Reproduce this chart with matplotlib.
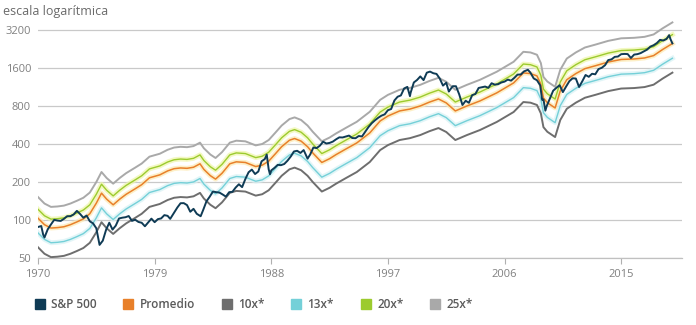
import numpy as np
import matplotlib
matplotlib.use("Agg")
import matplotlib.pyplot as plt
from matplotlib.lines import Line2D
from matplotlib.ticker import FixedLocator, FixedFormatter, NullLocator

plt.rcParams['font.family'] = ['Open Sans', 'DejaVu Sans']

# S&P 500 index level (quarterly, plus a few monthly turning points)
sp_years = [
    1970.0, 1970.25, 1970.4, 1970.5, 1970.75, 1971.0, 1971.25, 1971.5, 1971.75, 1972.0,
    1972.25, 1972.5, 1972.75, 1973.0, 1973.25, 1973.5, 1973.75, 1974.0, 1974.25, 1974.5,
    1974.75, 1975.0, 1975.25, 1975.5, 1975.75, 1976.0, 1976.25, 1976.5, 1976.75, 1977.0,
    1977.25, 1977.5, 1977.75, 1978.0, 1978.25, 1978.5, 1978.75, 1979.0, 1979.25, 1979.5,
    1979.75, 1980.0, 1980.2, 1980.5, 1980.75, 1981.0, 1981.25, 1981.5, 1981.75, 1982.0,
    1982.25, 1982.55, 1982.75, 1983.0, 1983.25, 1983.5, 1983.75, 1984.0, 1984.25, 1984.5,
    1984.75, 1985.0, 1985.25, 1985.5, 1985.75, 1986.0, 1986.25, 1986.5, 1986.75, 1987.0,
    1987.25, 1987.5, 1987.65, 1987.8, 1987.9, 1988.0, 1988.25, 1988.5, 1988.75, 1989.0,
    1989.25, 1989.5, 1989.75, 1990.0, 1990.25, 1990.5, 1990.8, 1991.0, 1991.25, 1991.5,
    1991.75, 1992.0, 1992.25, 1992.5, 1992.75, 1993.0, 1993.25, 1993.5, 1993.75, 1994.0,
    1994.25, 1994.5, 1994.75, 1995.0, 1995.25, 1995.5, 1995.75, 1996.0, 1996.25, 1996.5,
    1996.75, 1997.0, 1997.25, 1997.5, 1997.75, 1998.0, 1998.25, 1998.5, 1998.7, 1998.75,
    1999.0, 1999.25, 1999.5, 1999.75, 2000.0, 2000.25, 2000.5, 2000.75, 2001.0, 2001.25,
    2001.5, 2001.7, 2001.75, 2002.0, 2002.25, 2002.5, 2002.75, 2003.0, 2003.25, 2003.5,
    2003.75, 2004.0, 2004.25, 2004.5, 2004.75, 2005.0, 2005.25, 2005.5, 2005.75, 2006.0,
    2006.25, 2006.5, 2006.75, 2007.0, 2007.25, 2007.5, 2007.8, 2008.0, 2008.25, 2008.5,
    2008.75, 2008.9, 2009.0, 2009.15, 2009.25, 2009.5, 2009.75, 2010.0, 2010.25, 2010.5,
    2010.75, 2011.0, 2011.25, 2011.5, 2011.75, 2012.0, 2012.25, 2012.5, 2012.75, 2013.0,
    2013.25, 2013.5, 2013.75, 2014.0, 2014.25, 2014.5, 2014.75, 2015.0, 2015.25, 2015.5,
    2015.75, 2016.0, 2016.25, 2016.5, 2016.75, 2017.0, 2017.25, 2017.5, 2017.75, 2018.0,
    2018.25, 2018.5, 2018.7, 2018.8, 2018.95,
]
sp_values = [
    88, 89.6, 76.6, 72.7, 84.3, 92.2, 100.3, 99.0, 98.3, 102.1,
    107.2, 107.1, 110.6, 118.1, 111.5, 104.3, 108.4, 97.6, 94.0, 86.0,
    63.5, 68.6, 83.4, 95.2, 83.9, 90.2, 102.8, 104.3, 105.2, 107.5,
    98.4, 100.5, 96.5, 95.1, 89.2, 95.5, 102.5, 96.1, 101.6, 102.9,
    109.3, 107.9, 102.1, 114.2, 125.5, 135.8, 136.0, 131.2, 116.2, 122.6,
    112.0, 107.1, 120.4, 140.6, 153.0, 168.1, 166.1, 164.9, 159.2, 153.2,
    166.1, 167.2, 180.7, 191.9, 182.1, 211.3, 238.9, 250.8, 231.3, 242.2,
    291.7, 304.0, 329.8, 251.8, 230.3, 247.1, 258.9, 273.5, 271.9, 277.7,
    294.9, 318.0, 349.2, 353.4, 339.9, 358.0, 306.1, 330.2, 375.2, 371.2,
    387.9, 417.1, 403.7, 408.1, 417.8, 435.7, 451.7, 450.5, 458.9, 466.5,
    445.8, 444.3, 462.7, 459.3, 500.7, 544.8, 584.4, 615.9, 645.5, 670.6,
    687.3, 740.7, 757.1, 885.1, 947.3, 970.4, 1101.8, 1133.8, 957.3, 1017.0,
    1229.2, 1286.4, 1372.7, 1282.7, 1469.3, 1498.6, 1454.6, 1436.5, 1320.3, 1160.3,
    1224.4, 1040.9, 1059.8, 1148.1, 1147.4, 989.8, 815.3, 879.8, 848.2, 974.5,
    996.0, 1111.9, 1126.2, 1140.8, 1114.6, 1211.9, 1180.6, 1191.3, 1228.8, 1248.3,
    1294.8, 1270.2, 1335.9, 1418.3, 1420.9, 1503.4, 1549.4, 1468.4, 1322.7, 1280.0,
    1166.4, 896.2, 903.3, 735.1, 797.9, 919.3, 1057.1, 1115.1, 1169.4, 1030.7,
    1141.2, 1257.6, 1325.8, 1320.6, 1131.4, 1257.6, 1408.5, 1362.2, 1440.7, 1426.2,
    1569.2, 1606.3, 1681.6, 1848.4, 1872.3, 1960.2, 1972.3, 2058.9, 2067.9, 2063.1,
    1920.0, 2043.9, 2059.7, 2098.9, 2168.3, 2238.8, 2362.7, 2423.4, 2519.4, 2673.6,
    2640.9, 2718.4, 2914.0, 2711.7, 2506.9,
]

# earnings per share underlying the P/E bands
eps_years = [
    1970.0, 1970.5, 1971.0, 1971.5, 1972.0, 1972.5, 1973.0, 1973.5, 1974.0, 1974.5,
    1974.9, 1975.3, 1975.8, 1976.3, 1976.8, 1977.5, 1978.0, 1978.6, 1979.4, 1980.0,
    1980.5, 1981.0, 1981.5, 1982.0, 1982.5, 1982.8, 1983.3, 1983.7, 1984.2, 1984.8,
    1985.3, 1986.0, 1986.8, 1987.3, 1987.8, 1988.3, 1988.8, 1989.4, 1989.8, 1990.3,
    1990.8, 1991.2, 1991.9, 1992.5, 1993.0, 1993.8, 1994.6, 1995.6, 1996.4, 1997.0,
    1997.9, 1998.7, 1999.5, 2000.2, 2000.9, 2001.5, 2002.2, 2003.1, 2004.1, 2005.4,
    2006.7, 2007.45, 2008.0, 2008.5, 2008.8, 2009.0, 2009.3, 2009.9, 2010.3, 2010.8,
    2011.5, 2012.2, 2013.0, 2014.0, 2015.0, 2016.0, 2016.8, 2017.5, 2018.2, 2018.95,
]
eps = [
    6.08, 5.40, 5.08, 5.12, 5.20, 5.40, 5.68, 6.00, 6.60, 8.00,
    9.60, 8.60, 7.76, 8.60, 9.40, 10.4, 11.2, 12.7, 13.4, 14.4,
    15.0, 15.2, 15.1, 15.4, 16.4, 14.8, 13.2, 12.4, 13.8, 16.4,
    17.0, 16.8, 15.6, 16.0, 17.2, 19.6, 22.4, 25.2, 26.0, 24.8,
    22.4, 20.0, 16.8, 18.0, 19.4, 21.6, 24.0, 28.8, 35.8, 39.2,
    43.0, 44.5, 47.1, 50.5, 53.5, 49.8, 43.0, 47.1, 51.6, 59.8,
    71.7, 86.0, 85.0, 81.5, 70.0, 54.4, 50.0, 45.4, 62.0, 76.0,
    85.0, 93.0, 98.0, 105.0, 110.0, 111.0, 113.0, 118.0, 132.0, 147.0,
]

band_labels = ["Promedio", "10x*", "13x*", "20x*", "25x*"]
band_multiples = [17, 10, 13, 20, 25]
band_colors = ["#e8802a", "#6e6e6e", "#74d0d8", "#9ccb2e", "#a9a9a9"]
band_halos = ["#fde9b0", None, "#d6f2f5", "#eef6a8", None]
band_widths = [1.1, 1.4, 1.0, 1.0, 1.4]

sp_color = "#0f3b55"
y_ticks = [50, 100, 200, 400, 800, 1600, 3200]
x_ticks = [1970, 1979, 1988, 1997, 2006, 2015]

fig = plt.figure(figsize=(6.96, 3.25), dpi=100)
ax = fig.add_axes([38 / 696, 67 / 325, 644 / 696, 240 / 325])
ax.set_yscale("log")
ax.set_ylim(50, 50 * 2 ** (240 / 38))
ax.set_xlim(1970, 1970 + 644 / 12.96)

eps_arr = np.array(eps)
for lbl, m, c, halo, lw in zip(band_labels, band_multiples, band_colors, band_halos, band_widths):
    if halo:
        ax.plot(eps_years, eps_arr * m, color=halo, lw=3.5, alpha=0.7, zorder=2,
                solid_joinstyle="round")
    ax.plot(eps_years, eps_arr * m, color=c, lw=lw, zorder=3, label=lbl)

ax.plot(sp_years, sp_values, color=sp_color, lw=1.4, zorder=5, label="S&P 500")

ax.yaxis.set_major_locator(FixedLocator(y_ticks))
ax.yaxis.set_major_formatter(FixedFormatter([str(v) for v in y_ticks]))
ax.yaxis.set_minor_locator(NullLocator())
ax.grid(axis="y", color="#c9c9c9", lw=0.9)
ax.set_axisbelow(True)
ax.tick_params(axis="y", length=0, pad=5, labelsize=8, labelcolor="#808080")

ax.set_xticks(x_ticks)
ax.set_xticklabels([str(v) for v in x_ticks])
ax.tick_params(axis="x", length=4, width=0.8, color="#b0b0b0", pad=4,
               labelsize=8, labelcolor="#808080")

for side in ["top", "right", "left"]:
    ax.spines[side].set_visible(False)
ax.spines["bottom"].set_color("#c0c0c0")
ax.spines["bottom"].set_linewidth(0.9)

fig.text(3 / 696, 1 - 12 / 325, "escala logarítmica", fontsize=9, color="#6a6a6a",
         va="center", ha="left")

legend_names = ["S&P 500"] + ["Promedio", "10x*", "13x*", "20x*", "25x*"]
legend_colors = [sp_color, "#e8802a", "#6e6e6e", "#74d0d8", "#9ccb2e", "#a9a9a9"]
handles = [Line2D([], [], ls="none", marker="s", markersize=7.5, markerfacecolor=c,
                  markeredgecolor=c) for c in legend_colors]
leg = fig.legend(handles, legend_names, loc="center left",
                 bbox_to_anchor=(23 / 696, 1 - 305 / 325), ncol=6, frameon=False,
                 prop={"size": 8.5, "weight": "semibold"},
                 handletextpad=0.45, columnspacing=2.2, handlelength=1.0)
for t in leg.get_texts():
    t.set_color("#5a5a5a")

fig.savefig("out.png", dpi=100)
